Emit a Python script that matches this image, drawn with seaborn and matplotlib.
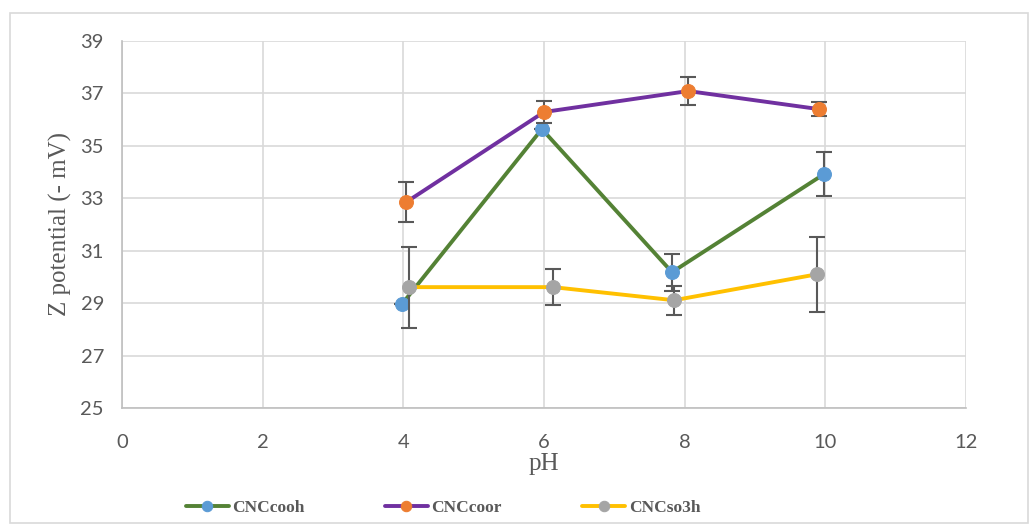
import matplotlib
matplotlib.use("Agg")
import matplotlib.pyplot as plt
import seaborn as sns
from matplotlib.patches import Rectangle

# data (pH, Z potential, error)
series_names = ["CNCcooh", "CNCcoor", "CNCso3h"]

ph_cooh = [3.98, 5.97, 7.82, 9.98]
z_cooh = [28.96, 35.64, 30.18, 33.92]
err_cooh = [0.0, 0.0, 0.7, 0.85]

ph_coor = [4.04, 6.0, 8.05, 9.91]
z_coor = [32.85, 36.29, 37.09, 36.40]
err_coor = [0.77, 0.42, 0.55, 0.26]

ph_so3h = [4.08, 6.13, 7.85, 9.88]
z_so3h = [29.61, 29.61, 29.11, 30.10]
err_so3h = [1.55, 0.70, 0.55, 1.42]

line_colors = ["#548235", "#7030a0", "#ffc000"]
marker_colors = ["#5b9bd5", "#ed7d31", "#a5a5a5"]

sns.set_style("whitegrid")
plt.rcParams["font.family"] = ["Lato", "DejaVu Sans"]

fig = plt.figure(figsize=(10.3, 5.24), dpi=100)
ax = fig.add_axes([0.1184, 0.2214, 0.8195, 0.7004])

# light frame round the whole chart, like the excel chart area
fig.patches.append(Rectangle((0.0097, 0.002), 0.988, 0.973, transform=fig.transFigure,
                             fill=False, edgecolor="#d9d9d9", lw=1.2))

datos = [(ph_cooh, z_cooh, err_cooh), (ph_coor, z_coor, err_coor), (ph_so3h, z_so3h, err_so3h)]
for i, (xs, ys, es) in enumerate(datos):
    ax.errorbar(xs, ys, yerr=es, fmt="none", ecolor="#595959", elinewidth=1.5,
                capsize=6, capthick=1.5, zorder=3 + i * 2)
    sns.lineplot(x=xs, y=ys, ax=ax, sort=False, color=line_colors[i], lw=2.8,
                 marker="o", markersize=10, markerfacecolor=marker_colors[i],
                 markeredgecolor=marker_colors[i], label=series_names[i], zorder=4 + i * 2)

ax.set_xlim(0, 12)
ax.set_ylim(25, 39)
ax.set_xticks(range(0, 13, 2))
ax.set_yticks(range(25, 40, 2))
ax.grid(True, color="#d9d9d9", lw=1.2)
for s in ["top", "right"]:
    ax.spines[s].set_visible(False)
for s in ["left", "bottom"]:
    ax.spines[s].set_color("#bfbfbf")
    ax.spines[s].set_linewidth(1.2)
ax.tick_params(axis="both", labelsize=14.5, colors="#595959", length=0)
ax.tick_params(axis="x", pad=19)
ax.tick_params(axis="y", pad=13)

ax.set_xlabel("pH", family="Liberation Serif", fontsize=18, color="#595959", labelpad=1)
ax.set_ylabel("Z potential (- mV)", family="Liberation Serif", fontsize=18, color="#595959", labelpad=6)

ax.get_legend().remove()
h, l = ax.get_legend_handles_labels()
fig.legend(h, l, loc="center", bbox_to_anchor=(0.43, 0.03), ncol=3, frameon=False,
           prop={"family": "Liberation Serif", "size": 12.5, "weight": "bold"},
           labelcolor="#595959", handlelength=2.5, handletextpad=0.2, columnspacing=4.6,
           markerscale=0.75)

fig.savefig("out.png", dpi=100)
